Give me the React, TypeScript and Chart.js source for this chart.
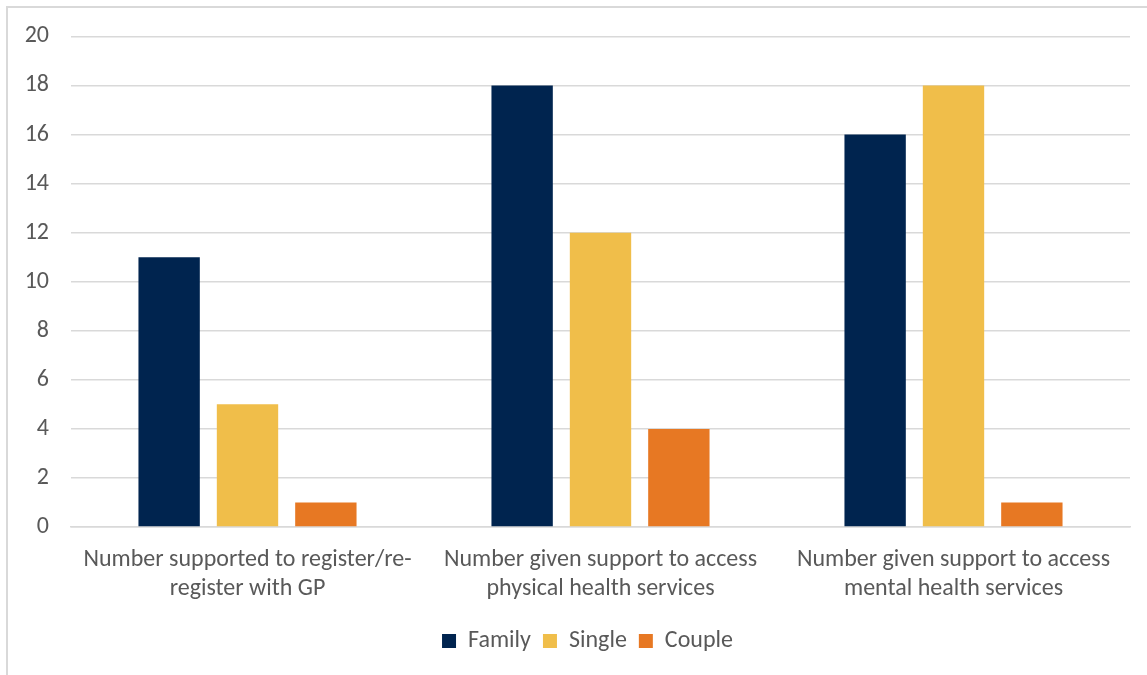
import React, { useEffect, useRef } from "react";
import { Chart, registerables } from "chart.js";

Chart.register(...registerables);

// Support categories, one wrapped label per group
const categories: string[][] = [
  ["Number supported to register/re-", "register with GP"],
  ["Number given support to access", "physical health services"],
  ["Number given support to access", "mental health services"],
];

const familyValues = [11, 18, 16];
const singleValues = [5, 12, 18];
const coupleValues = [1, 4, 1];

const yTicks = { min: 0, max: 20, step: 2 };

const FONT = "Carlito, Lato, 'Open Sans', sans-serif";
const TEXT = "#595959";

// Centres the bottom legend under the plot area rather than the whole canvas
const legendUnderPlot = {
  id: "legendUnderPlot",
  afterLayout(chart: any) {
    const legend = chart.legend;
    if (!legend) return;
    const area = chart.chartArea;
    const shift = (area.left + area.right) / 2 - (legend.left + legend.right) / 2 - 13;
    legend.left += shift;
    legend.right += shift;
  },
};

export default function App() {
  const canvasRef = useRef<HTMLCanvasElement | null>(null);

  useEffect(() => {
    const canvas = canvasRef.current;
    if (!canvas) return;
    const chart = new Chart(canvas, {
      type: "bar",
      data: {
        labels: categories,
        datasets: [
          { label: "Family", data: familyValues, backgroundColor: "#00244F" },
          { label: "Single", data: singleValues, backgroundColor: "#F0BE4A" },
          { label: "Couple", data: coupleValues, backgroundColor: "#E77823" },
        ],
      },
      options: {
        responsive: false,
        animation: false,
        devicePixelRatio: 1,
        datasets: {
          bar: { barPercentage: 0.783, categoryPercentage: 0.666 },
        },
        layout: { padding: { left: 20, right: 17, top: 36, bottom: 12 } },
        scales: {
          x: {
            grid: { display: false, drawTicks: false },
            border: { display: true, color: "#d9d9d9", width: 1.5 },
            ticks: {
              color: TEXT,
              font: { family: FONT, size: 24, lineHeight: 1.21 },
              padding: 18.5,
              maxRotation: 0,
              autoSkip: false,
            },
            afterFit: (scale: any) => {
              scale.height = 90;
            },
          },
          y: {
            min: yTicks.min,
            max: yTicks.max,
            grid: { color: "#d9d9d9", lineWidth: 1.5, drawTicks: false },
            border: { display: false },
            ticks: {
              stepSize: yTicks.step,
              color: TEXT,
              font: { family: FONT, size: 24 },
              padding: 22,
            },
            afterFit: (scale: any) => {
              scale.width = 51;
            },
          },
        },
        plugins: {
          legend: {
            position: "bottom",
            labels: {
              color: TEXT,
              font: { family: FONT, size: 24 },
              boxWidth: 14,
              boxHeight: 14,
              padding: 12,
            },
          },
          tooltip: { enabled: false },
        },
      },
      plugins: [legendUnderPlot],
    });
    return () => chart.destroy();
  }, []);

  return (
    <div style={{ position: "absolute", left: 0, top: 0, width: 1147, height: 675, overflow: "hidden", background: "#fff" }}>
      <div
        style={{
          position: "absolute",
          left: 6,
          top: 6,
          width: 1200,
          height: 700,
          borderLeft: "2px solid #d9d9d9",
          borderTop: "2px solid #d9d9d9",
        }}
      />
      <canvas ref={canvasRef} width={1147} height={675} style={{ position: "absolute", left: 0, top: 0 }} />
    </div>
  );
}
